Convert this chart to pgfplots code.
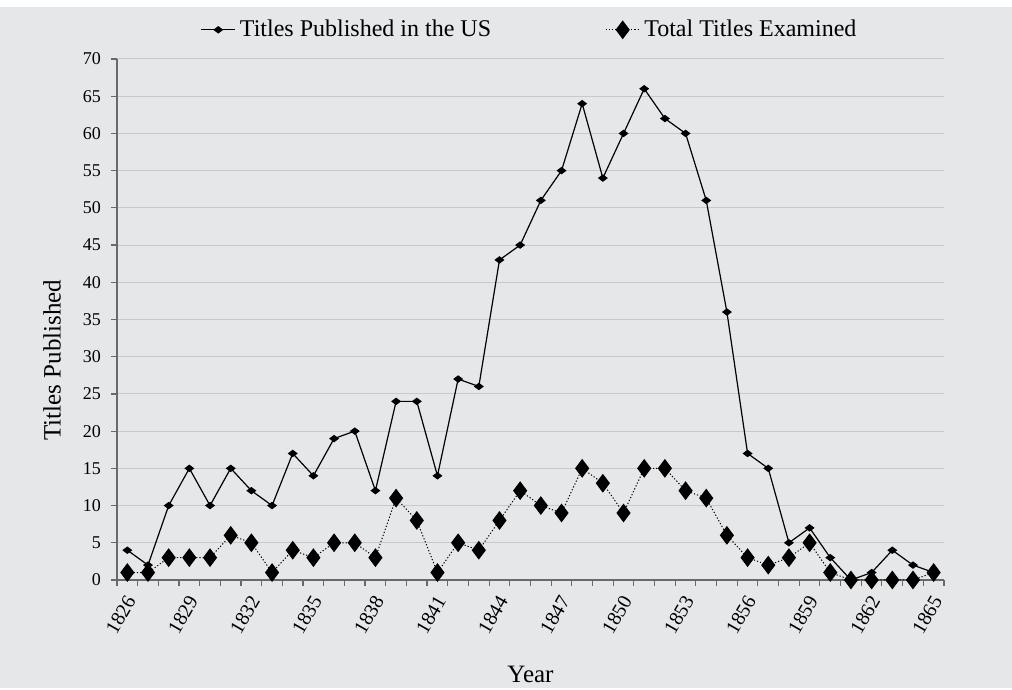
\documentclass[border=0pt]{standalone}
\usepackage{fontspec}
\setmainfont{Liberation Serif}
\usepackage{pgfplots}
\pgfplotsset{compat=1.18}
\usetikzlibrary{backgrounds,calc}
\definecolor{bgc}{RGB}{230,231,233}
\definecolor{gridc}{RGB}{200,201,203}
\definecolor{axc}{RGB}{105,105,105}
\begin{document}
\begin{tikzpicture}
\begin{axis}[
  name=ax,
  scale only axis,
  width=413.5pt, height=260.5pt,
  xmin=1825.5, xmax=1865.5,
  ymin=0, ymax=70,
  clip=false,
  axis x line=bottom, axis y line=left,
  axis line style={-, draw=axc, line width=0.8pt},
  ytick={0,5,...,70},
  minor ytick={0,5,...,70},
  ymajorgrids,
  grid style={gridc, line width=0.5pt},
  xtick={1826,1829,...,1865},
  minor xtick={1825.5,1826.5,...,1865.5},
  tick align=outside,
  major tick length=0pt,
  minor tick length=3pt,
  tick style={draw=axc, line width=0.6pt},
  xticklabel style={xshift=3.5pt, yshift=-5.75pt, rotate=60, anchor=east, font=\fontsize{10}{12}\selectfont},
  yticklabel style={font=\fontsize{9}{11}\selectfont, xshift=-4.5pt},
  /pgf/number format/assume math mode=true,
  /pgf/number format/1000 sep={},
  xlabel={Year}, ylabel={Titles Published},
  label style={font=\fontsize{12.5}{15}\selectfont},
  xlabel style={at={(axis description cs:0.5,-0.182)}, anchor=center},
  ylabel style={at={(axis description cs:-0.0786,0.422)}, anchor=center, rotate=0},
  legend style={at={(0.5,1.056)}, anchor=center, draw=none, fill=none,
    font=\fontsize{12}{14}\selectfont},
  legend columns=2,
  legend cell align=left,
  /tikz/every even column/.append style={column sep=55pt},
]
\addplot[black, line width=0.6pt, mark=diamond*, mark size=2pt, mark options={rotate=90, solid}]
  coordinates {
  (1826,4) (1827,2) (1828,10) (1829,15) (1830,10) (1831,15) (1832,12) (1833,10)
  (1834,17) (1835,14) (1836,19) (1837,20) (1838,12) (1839,24) (1840,24) (1841,14)
  (1842,27) (1843,26) (1844,43) (1845,45) (1846,51) (1847,55) (1848,64) (1849,54)
  (1850,60) (1851,66) (1852,62) (1853,60) (1854,51) (1855,36) (1856,17) (1857,15)
  (1858,5) (1859,7) (1860,3) (1861,0) (1862,1) (1863,4) (1864,2) (1865,1)
  };
\addlegendentry{Titles Published in the US}
\addplot[black, line width=0.5pt, dash pattern=on 0.6pt off 1pt, mark=diamond*, mark size=4.3pt, mark options={solid}]
  coordinates {
  (1826,1) (1827,1) (1828,3) (1829,3) (1830,3) (1831,6) (1832,5) (1833,1)
  (1834,4) (1835,3) (1836,5) (1837,5) (1838,3) (1839,11) (1840,8) (1841,1)
  (1842,5) (1843,4) (1844,8) (1845,12) (1846,10) (1847,9) (1848,15) (1849,13)
  (1850,9) (1851,15) (1852,15) (1853,12) (1854,11) (1855,6) (1856,3) (1857,2)
  (1858,3) (1859,5) (1860,1) (1861,0) (1862,0) (1863,0) (1864,0) (1865,1)
  };
\addlegendentry{Total Titles Examined}
\end{axis}
\begin{scope}[on background layer]
\fill[bgc] ($(ax.south west)+(-58.5pt,-54pt)$) rectangle ($(ax.north east)+(34pt,29.5pt)$);
\fill[white] ($(ax.north west)+(-58.5pt,26pt)$) rectangle ($(ax.north east)+(34pt,29.5pt)$);
\end{scope}
\end{tikzpicture}
\end{document}
